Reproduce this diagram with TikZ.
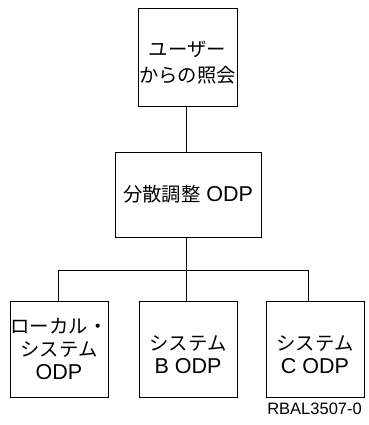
\documentclass[tikz,border=0pt]{standalone}
\usepackage{fontspec}
\setmainfont{Liberation Sans}
\newfontfamily\cjk[Scale=0.9]{Noto Sans CJK JP}
\usepackage{tikz}

\begin{document}
\begin{tikzpicture}[x=1pt, y=-1pt,
    box/.style={draw, line width=0.8pt, inner sep=0pt, align=center,
                font=\fontsize{21.5}{26}\selectfont},
    leaf/.style={box, minimum width=98pt, minimum height=96pt,
                font=\fontsize{21.5}{23}\selectfont},
    conn/.style={line width=0.8pt}]
  \useasboundingbox (0,0) rectangle (368,425);

  \node[box, minimum width=99pt, minimum height=98pt] (U) at (187.5, 57)
       {\rule{0pt}{27pt}{\cjk ユーザー}\\{\cjk からの照会}};
  \node[box, minimum width=146pt, minimum height=85pt] (D) at (188, 194.5)
       {{\cjk 分散調整} ODP};

  \node[leaf] (L) at (59, 349) {{\cjk ローカル・}\\{\cjk システム}\\ODP};
  \node[leaf] (B) at (188, 349) {\rule{0pt}{27pt}{\cjk システム}\\B ODP};
  \node[leaf] (C) at (315, 349) {\rule{0pt}{27pt}{\cjk システム}\\C ODP};

  \coordinate (bus) at (186, 270);
  \coordinate (Lb) at (58, 270);
  \coordinate (Cb) at (308, 270);

  \draw[conn] (U.south -| bus) -- (D.north -| bus);
  \draw[conn] (D.south -| bus) -- (bus);
  \draw[conn] (Lb) -- (Cb);
  \draw[conn] (Lb) -- (L.north -| Lb);
  \draw[conn] (bus) -- (B.north -| bus);
  \draw[conn] (Cb) -- (C.north -| Cb);

  \node[anchor=east, inner sep=0pt, font=\fontsize{16.5}{18}\selectfont]
       (ref) at (362, 409) {RBAL3507-0};
\end{tikzpicture}
\end{document}
